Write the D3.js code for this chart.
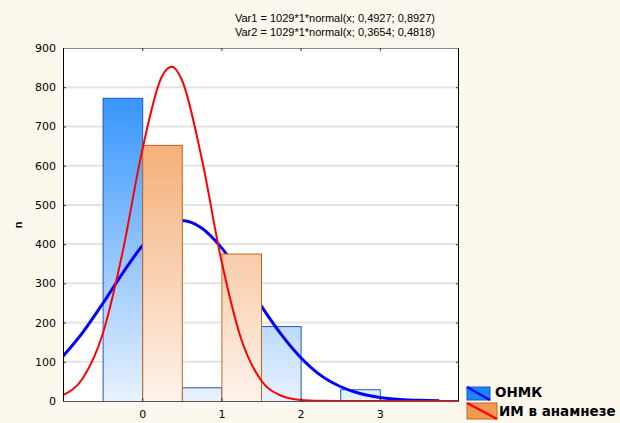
<!DOCTYPE html>
<html>
<head>
<meta charset="utf-8">
<script src="https://cdn.jsdelivr.net/npm/d3@7"></script>
<style>
  body { margin: 0; background: #fdf8ee; }
  svg { display: block; font-family: Arial, "Liberation Sans", sans-serif; }
</style>
</head>
<body>
<script>
// histogram categories and counts
const categories = [0, 1, 2, 3];
const onmk = [773, 35, 191, 30];
const im = [653, 376, 0, 0];
const yTicks = [0, 100, 200, 300, 400, 500, 600, 700, 800, 900];
const xTicks = [0, 1, 2, 3];
const titles = ['Var1 = 1029*1*normal(x; 0,4927; 0,8927)', 'Var2 = 1029*1*normal(x; 0,3654; 0,4818)'];
const seriesNames = ['ОНМК', 'ИМ в анамнезе'];

// fitted curves
const fit1X = [-1, -0.75, -0.5, -0.25, 0, 0.25, 0.5, 0.75, 1, 1.25, 1.5, 1.75, 2, 2.25, 2.5, 2.75, 3, 3.25, 3.5, 3.75];
const fit1Y = [114, 175, 248, 325, 395, 443, 460, 441, 391, 321, 243, 171, 111, 66, 37, 19, 9, 4, 1.6, 0.6];
const fit2X = [-1, -0.75, -0.5, -0.25, 0, 0.25, 0.375, 0.5, 0.75, 1, 1.25, 1.5, 1.75, 2, 2.25, 2.5, 3, 3.5, 4];
const fit2Y = [15, 58, 170, 377, 639, 828, 852, 819, 620, 358, 158, 53, 14, 2.7, 0.4, 0, 0, 0, 0];

const W = 620, H = 423;
const pLeft = 63, pRight = 459, pTop = 48, pBottom = 401;
const tickFont = '"DejaVu Sans", Verdana, sans-serif';

const svg = d3.select('body')
  .append('svg')
  .attr('width', W)
  .attr('height', H);

const x = d3.scaleLinear().domain([-1, 4]).range([pLeft, pRight]);
const y = d3.scaleLinear().domain([0, 900]).range([pBottom, pTop]);

const defs = svg.append('defs');
const g1 = defs.append('linearGradient').attr('id', 'gBlue')
  .attr('gradientUnits', 'userSpaceOnUse')
  .attr('x1', 0).attr('x2', 0).attr('y1', pTop).attr('y2', pBottom);
g1.append('stop').attr('offset', 0).attr('stop-color', '#1a86fe');
g1.append('stop').attr('offset', 1).attr('stop-color', '#e8f2fd');
const g2 = defs.append('linearGradient').attr('id', 'gOrange')
  .attr('gradientUnits', 'userSpaceOnUse')
  .attr('x1', 0).attr('x2', 0).attr('y1', pTop).attr('y2', pBottom);
g2.append('stop').attr('offset', 0).attr('stop-color', '#f2964c');
g2.append('stop').attr('offset', 1).attr('stop-color', '#fdf3ec');
defs.append('clipPath').attr('id', 'plotClip')
  .append('rect').attr('x', pLeft).attr('y', pTop).attr('width', pRight - pLeft).attr('height', pBottom - pTop);

// plot background
svg.append('rect')
  .attr('x', pLeft).attr('y', pTop)
  .attr('width', pRight - pLeft).attr('height', pBottom - pTop)
  .attr('fill', '#fff');

// grid
svg.append('g')
  .selectAll('line')
  .data(yTicks.slice(1, -1))
  .enter()
  .append('line')
  .attr('x1', pLeft).attr('x2', pRight)
  .attr('y1', d => y(d)).attr('y2', d => y(d))
  .attr('stroke', '#e4e4e4')
  .attr('stroke-width', 2);

const plot = svg.append('g').attr('clip-path', 'url(#plotClip)');
const line = d3.line().x(d => x(d[0])).y(d => y(d[1])).curve(d3.curveMonotoneX);

// series 1: bars then curve
plot.selectAll('.bar1')
  .data(categories.map((c, i) => ({ c, v: onmk[i] })).filter(d => d.v > 0))
  .enter()
  .append('rect')
  .attr('class', 'bar1')
  .attr('x', d => x(d.c - 0.5) + 0.5)
  .attr('width', d => x(d.c) - x(d.c - 0.5))
  .attr('y', d => y(d.v) + 0.5)
  .attr('height', d => y(0) - y(d.v))
  .attr('fill', 'url(#gBlue)')
  .attr('stroke', '#1d55c4')
  .attr('stroke-width', 1);

plot.append('path')
  .datum(fit1X.map((v, i) => [v, fit1Y[i]]))
  .attr('d', line)
  .attr('fill', 'none')
  .attr('stroke', '#0000ff')
  .attr('stroke-width', 3);

// series 2: bars then curve
plot.selectAll('.bar2')
  .data(categories.map((c, i) => ({ c, v: im[i] })).filter(d => d.v > 0))
  .enter()
  .append('rect')
  .attr('class', 'bar2')
  .attr('x', d => x(d.c) + 0.5)
  .attr('width', d => x(d.c + 0.5) - x(d.c))
  .attr('y', d => y(d.v) + 0.5)
  .attr('height', d => y(0) - y(d.v))
  .attr('fill', 'url(#gOrange)')
  .attr('stroke', '#c2661c')
  .attr('stroke-width', 1);

plot.append('path')
  .datum(fit2X.map((v, i) => [v, fit2Y[i]]))
  .attr('d', line)
  .attr('fill', 'none')
  .attr('stroke', '#ff0000')
  .attr('stroke-width', 2);

// frame
svg.append('line').attr('x1', pLeft).attr('x2', pRight).attr('y1', pTop + 0.5).attr('y2', pTop + 0.5).attr('stroke', '#888');
svg.append('line').attr('x1', pRight - 0.5).attr('x2', pRight - 0.5).attr('y1', pTop).attr('y2', pBottom).attr('stroke', '#000');
svg.append('line').attr('x1', pLeft + 0.5).attr('x2', pLeft + 0.5).attr('y1', pTop).attr('y2', pBottom + 1).attr('stroke', '#000');
svg.append('line').attr('x1', pLeft).attr('x2', pRight).attr('y1', pBottom + 0.5).attr('y2', pBottom + 0.5).attr('stroke', '#555');

// axes with inward ticks
const yaxis = d3.axisLeft(y).tickValues(yTicks).tickSize(0).tickPadding(7);
svg.append('g')
  .attr('transform', `translate(${pLeft},0)`)
  .call(yaxis)
  .call(g => g.select('.domain').remove())
  .call(g => g.selectAll('text').attr('font-size', 11).attr('fill', '#000').attr('font-family', tickFont));

const xaxis = d3.axisBottom(x).tickValues(xTicks).tickFormat(d3.format('d')).tickSize(0).tickPadding(9);
svg.append('g')
  .attr('transform', `translate(0,${pBottom})`)
  .call(xaxis)
  .call(g => g.select('.domain').remove())
  .call(g => g.selectAll('text').attr('font-size', 11).attr('fill', '#000').attr('font-family', tickFont));

const ticks = svg.append('g').attr('stroke', '#333');
yTicks.slice(1, -1).forEach(t => {
  ticks.append('line').attr('x1', pLeft).attr('x2', pLeft + 3).attr('y1', y(t) + 0.5).attr('y2', y(t) + 0.5);
  ticks.append('line').attr('x1', pRight - 3).attr('x2', pRight).attr('y1', y(t) + 0.5).attr('y2', y(t) + 0.5);
});
xTicks.forEach(t => {
  ticks.append('line').attr('x1', x(t) + 0.5).attr('x2', x(t) + 0.5).attr('y1', pBottom - 3).attr('y2', pBottom);
  ticks.append('line').attr('x1', x(t) + 0.5).attr('x2', x(t) + 0.5).attr('y1', pTop).attr('y2', pTop + 3);
});

// y label
svg.append('text')
  .attr('transform', 'translate(22,225) rotate(-90)')
  .attr('text-anchor', 'middle')
  .attr('font-size', 11)
  .attr('font-weight', 'bold')
  .text('n');

// title
svg.selectAll('.title')
  .data(titles)
  .enter()
  .append('text')
  .attr('class', 'title')
  .attr('x', 335)
  .attr('y', (d, i) => 22 + i * 14)
  .attr('text-anchor', 'middle')
  .attr('font-size', 11)
  .text(d => d);

// legend
const legend = svg.append('g');
const sw = [
  { x: 467, y: 387, w: 23, h: 13, fill: '#1a86fe', stroke: '#1d55c4', line: '#0000ff', tx: 495, ty: 397 },
  { x: 467, y: 403, w: 30, h: 16, fill: '#f59a55', stroke: '#c2661c', line: '#ff0000', tx: 499, ty: 416 }
];
sw.forEach((s, i) => {
  legend.append('rect').attr('x', s.x).attr('y', s.y).attr('width', s.w).attr('height', s.h)
    .attr('fill', s.fill).attr('stroke', s.stroke);
  legend.append('line').attr('x1', s.x).attr('y1', s.y).attr('x2', s.x + s.w).attr('y2', s.y + s.h)
    .attr('stroke', s.line).attr('stroke-width', 2.5);
  legend.append('text').attr('x', s.tx).attr('y', s.ty)
    .attr('font-size', 13.5).attr('font-weight', 'bold')
    .attr('font-family', tickFont)
    .text(seriesNames[i]);
});
</script>
</body>
</html>
